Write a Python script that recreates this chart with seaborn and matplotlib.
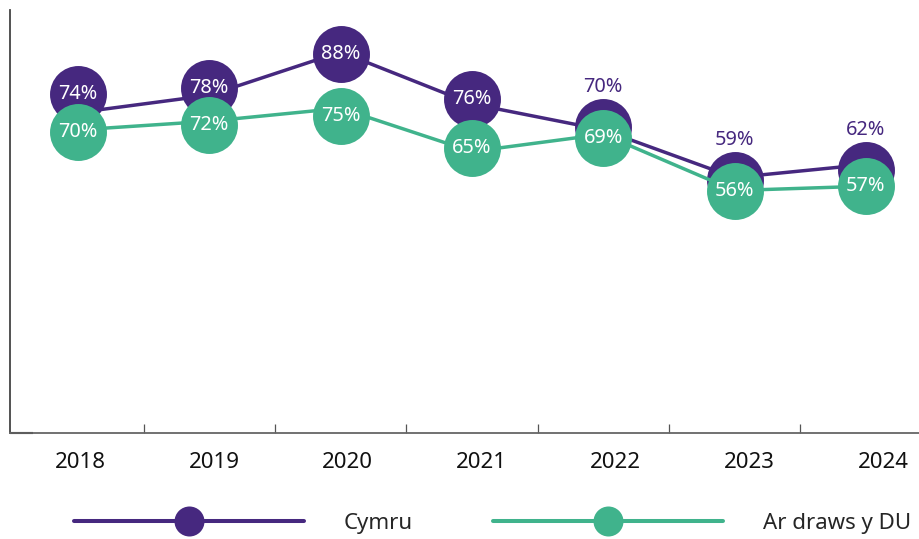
import matplotlib
matplotlib.use("Agg")
import matplotlib.pyplot as plt
import matplotlib.transforms as mtransforms
from matplotlib.lines import Line2D
import seaborn as sns
import pandas as pd

# ---- data ----
years = ["2018", "2019", "2020", "2021", "2022", "2023", "2024"]
cymru = [74, 78, 88, 76, 70, 59, 62]
uk = [70, 72, 75, 65, 69, 56, 57]
series_names = ["Cymru", "Ar draws y DU"]

# ---- style ----
PURPLE = "#46287F"
GREEN = "#40B38C"
FONT = ["Noto Sans", "DejaVu Sans"]
# marker displacement (pixels, + = down) used by the original to reduce overlap
cym_marker_dy = [-19, -7, 2, -5, -3, 2, 5]
uk_marker_dy = [2, 4, 8, -4, 4, 0, 0]
cym_label_inside = [True, True, True, True, False, False, False]

sns.set_theme(style="white")
plt.rcParams["font.family"] = FONT

fig = plt.figure(figsize=(9.2, 5.39), dpi=100)
W, H = 920, 539
step = 131.3
left_px = 10
x0 = -(78 - left_px) / step
ax_w = (6.5 - x0) * step
ax = fig.add_axes([left_px / W, (H - 433) / H, ax_w / W, 423 / H])

x = list(range(len(years)))
df = pd.DataFrame({
    "x": x * 2,
    "value": cymru + uk,
    "series": [series_names[0]] * len(x) + [series_names[1]] * len(x),
})
sns.lineplot(data=df[df.series == series_names[0]], x="x", y="value",
             color=PURPLE, lw=2.5, ax=ax, legend=False, zorder=2,
             solid_capstyle="round")

def dots(dy):
    return mtransforms.offset_copy(ax.transData, fig=fig, x=0, y=-dy, units="dots")

for i, v in enumerate(cymru):
    ax.plot([i], [v], "o", color=PURPLE, ms=41, mew=0, zorder=3,
            transform=dots(cym_marker_dy[i]))

sns.lineplot(data=df[df.series == series_names[1]], x="x", y="value",
             color=GREEN, lw=2.5, ax=ax, legend=False, zorder=4,
             solid_capstyle="round")
for i, v in enumerate(uk):
    ax.plot([i], [v], "o", color=GREEN, ms=41, mew=0, zorder=5,
            transform=dots(uk_marker_dy[i]))

LBL = 14.3
for i, v in enumerate(cymru):
    if cym_label_inside[i]:
        ax.text(i, v, f"{v}%", color="white", fontsize=LBL, ha="center",
                va="center", zorder=6, transform=dots(cym_marker_dy[i]))
    else:
        ax.text(i, v, f"{v}%", color=PURPLE, fontsize=LBL, ha="center",
                va="center", zorder=6, transform=dots(cym_marker_dy[i] - 40))
for i, v in enumerate(uk):
    ax.text(i, v, f"{v}%", color="white", fontsize=LBL, ha="center",
            va="center", zorder=6, transform=dots(uk_marker_dy[i]))

ax.set_xlim(x0, 6.5)
ax.set_ylim(0, 100 * 423 / 433)
ax.set_xlabel("")
ax.set_ylabel("")

# category labels centred, tick marks between categories
ax.set_xticks(x)
ax.set_xticklabels(years, fontsize=16, color="#111111")
ax.set_xticks([i + 0.5 for i in range(len(years) - 1)], minor=True)
ax.tick_params(axis="x", which="major", length=0, pad=14)
ax.tick_params(axis="x", which="minor", direction="in", length=6.5,
               width=0.9, color="#555555", bottom=True)
# the original's category labels drift slightly right of the category centres
for i, lbl in enumerate(ax.get_xticklabels()):
    lbl.set_transform(lbl.get_transform() +
                      mtransforms.Affine2D().translate(2 + 2.6 * i, 0))

ax.set_yticks([0])
ax.set_yticklabels([""])
ax.tick_params(axis="y", direction="in", length=16.5, width=1.5,
               color="#111111", left=True)

for s in ["top", "right"]:
    ax.spines[s].set_visible(False)
ax.spines["left"].set_color("#444444")
ax.spines["left"].set_linewidth(1.3)
ax.spines["bottom"].set_color("#666666")
ax.spines["bottom"].set_linewidth(1.3)

handles = [
    Line2D([], [], color=PURPLE, lw=2.9, marker="o", ms=21.6, mew=0,
           solid_capstyle="round"),
    Line2D([], [], color=GREEN, lw=2.9, marker="o", ms=21.6, mew=0,
           solid_capstyle="round"),
]
fig.legend(handles, series_names, loc="center", ncol=2, frameon=False,
           bbox_to_anchor=(492.5 / W, 1 - 523 / H), fontsize=16,
           handlelength=10.35, handletextpad=1.8, columnspacing=3.6,
           numpoints=1, borderpad=0, borderaxespad=0)

fig.savefig("out.png", dpi=100)
